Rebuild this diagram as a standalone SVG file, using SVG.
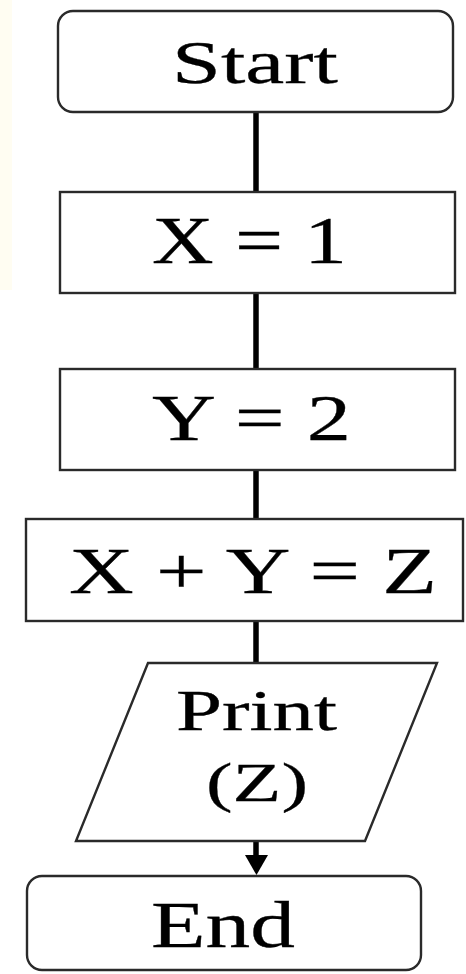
<svg xmlns="http://www.w3.org/2000/svg" width="466" height="974" viewBox="0 0 466 974">
<defs>
<style>
.box{fill:#fff;stroke:#2a2a2a;stroke-width:2.4}
.t{font-family:"Liberation Serif","Times New Roman",serif;fill:#000;stroke:#000;stroke-width:0.3}
.c{stroke:#000;stroke-width:5.5;fill:none}
</style>
</defs>
<rect width="466" height="974" fill="#fff"/>
<rect x="0" y="0" width="12" height="290" fill="#fffdf2"/>
<g id="connectors">
<line class="c" x1="256" y1="112" x2="256" y2="192"/>
<line class="c" x1="256" y1="293" x2="256" y2="369"/>
<line class="c" x1="256" y1="470" x2="256" y2="519"/>
<line class="c" x1="256" y1="621" x2="256" y2="663"/>
<line class="c" x1="256" y1="841" x2="256" y2="856"/>
<path d="M245,855 L268,855 L256.5,875 Z" fill="#000"/>
</g>
<g id="start">
<rect class="box" x="58" y="11" width="395" height="101" rx="15"/>
<text class="t" x="172" y="83" font-size="62" textLength="166" lengthAdjust="spacingAndGlyphs">Start</text>
</g>
<g id="x1">
<rect class="box" x="60" y="192" width="395" height="101"/>
<text class="t" x="152" y="263" font-size="67" textLength="195" lengthAdjust="spacingAndGlyphs">X = 1</text>
</g>
<g id="y2">
<rect class="box" x="60" y="369" width="395" height="101"/>
<text class="t" x="152" y="440" font-size="65" textLength="199" lengthAdjust="spacingAndGlyphs">Y = 2</text>
</g>
<g id="sum">
<rect class="box" x="26" y="519" width="437" height="102"/>
<text class="t" x="69" y="593" font-size="66" textLength="368" lengthAdjust="spacingAndGlyphs">X + Y = Z</text>
</g>
<g id="print">
<polygon class="box" points="148,663 437,663 365,841 76,841"/>
<text class="t" x="176" y="730" font-size="56" textLength="161" lengthAdjust="spacingAndGlyphs">Print</text>
<text class="t" x="206" y="801" font-size="55" textLength="102" lengthAdjust="spacingAndGlyphs">(Z)</text>
</g>
<g id="end">
<rect class="box" x="27" y="876" width="394" height="94" rx="15"/>
<text class="t" x="151" y="947" font-size="66" textLength="144" lengthAdjust="spacingAndGlyphs">End</text>
</g>
</svg>
